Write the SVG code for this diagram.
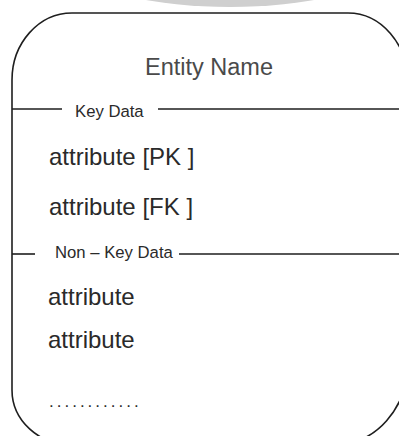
<svg xmlns="http://www.w3.org/2000/svg" width="399" height="436" viewBox="0 0 399 436">
  <style>
    .outline { fill: none; stroke: #1e1e1e; stroke-width: 1.6; }
    .rule { stroke: #1e1e1e; stroke-width: 1.6; }
    .title { font-family: "Liberation Sans", Arial, sans-serif; font-size: 23.5px; fill: #4a4a4a; text-anchor: middle; }
    .section { font-family: "Liberation Sans", Arial, sans-serif; font-size: 16.7px; fill: #2a2a2a; }
    .attr { font-family: "Liberation Sans", Arial, sans-serif; font-size: 24px; fill: #2a2a2a; }
    .dots { font-family: "Liberation Sans", Arial, sans-serif; font-size: 17px; fill: #2a2a2a; letter-spacing: 3px; }
  </style>
  <rect width="399" height="436" fill="#ffffff"/>
  <ellipse id="top-blob" cx="230" cy="-28" rx="140" ry="35" fill="#cfcfcf"/>
  <g id="entity">
    <path class="outline" d="M 72,13 L 348,13 A 60,70 0 0 1 408,83 L 408,362 A 73,83 0 0 1 335,445 L 72,445 A 60,55 0 0 1 12,390 L 12,80 A 60,67 0 0 1 72,13 Z"/>
    <text class="title" x="209" y="75">Entity Name</text>
    <g id="key-data">
      <line class="rule" x1="12" y1="109" x2="62" y2="109"/>
      <text class="section" x="75" y="117">Key Data</text>
      <line class="rule" x1="158" y1="109" x2="408" y2="109"/>
      <text class="attr" x="49" y="165">attribute [PK ]</text>
      <text class="attr" x="49" y="215">attribute [FK ]</text>
    </g>
    <g id="non-key-data">
      <line class="rule" x1="12" y1="254" x2="35" y2="254"/>
      <text class="section" x="55" y="258">Non – Key Data</text>
      <line class="rule" x1="179" y1="254" x2="408" y2="254"/>
      <text class="attr" x="48" y="305">attribute</text>
      <text class="attr" x="48" y="348">attribute</text>
      <text class="dots" x="49" y="407">............</text>
    </g>
  </g>
  <g id="connectors"/>
</svg>
